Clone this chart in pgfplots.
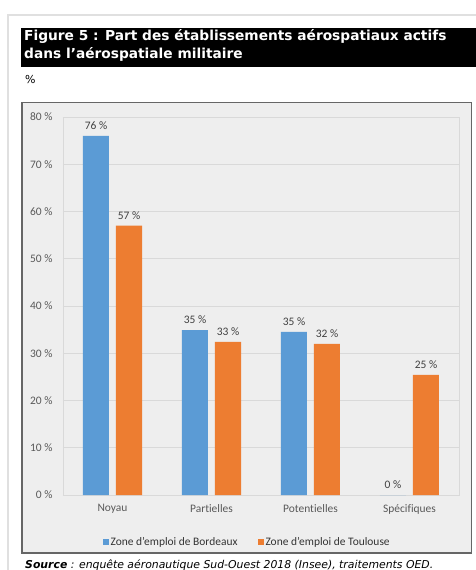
\documentclass[border=0pt]{standalone}
\usepackage{fontspec}
\setmainfont{Carlito}[Ligatures=CommonOff]
\newfontfamily\verdana{DejaVu Sans}
\usepackage{pgfplots}
\usepackage{pgfplotstable}
\pgfplotsset{compat=1.18}

\definecolor{bleu}{HTML}{5B9BD5}
\definecolor{orng}{HTML}{ED7D31}
\definecolor{fond}{HTML}{EEEEEE}
\definecolor{grille}{HTML}{D9D9D9}
\definecolor{texte}{HTML}{595959}

% x = position de la catégorie, y = valeur, lab = étiquette affichée
\pgfplotstableread{
x y lab
0 76.0 76
1 34.9 35
2 34.5 35
3 0.0 0
}\bordeaux
\pgfplotstableread{
x y lab
0 57.0 57
1 32.4 33
2 32.0 32
3 25.4 25
}\toulouse

\begin{document}
\begin{tikzpicture}
\path[use as bounding box] (0,0) rectangle (476bp,-570bp);
\fill[white] (0,0) rectangle (476bp,-570bp);
\draw[line width=2bp, black!12] (8bp,-600bp) -- (8bp,-15bp) -- (490bp,-15bp);
\fill[black] (21bp,-28bp) rectangle (476bp,-67bp);
\node[anchor=base west, inner sep=0, text=white,
  font=\verdana\bfseries\fontsize{13.8}{15}\selectfont] at (24bp,-40.5bp)
  {Figure 5 : Part des établissements aérospatiaux actifs};
\node[anchor=base west, inner sep=0, text=white,
  font=\verdana\bfseries\fontsize{13.8}{15}\selectfont] at (24bp,-58.5bp)
  {dans l’aérospatiale militaire};
\node[anchor=base west, inner sep=0, font=\verdana\fontsize{11}{12}\selectfont]
  at (25bp,-83bp) {\%};
\filldraw[fill=fond, draw=black!60, line width=1.2bp]
  (22bp,-102.5bp) rectangle (471.5bp,-553bp);

\begin{axis}[
    at={(63bp,-495bp)}, anchor=south west,
    scale only axis, width=396bp, height=378bp,
    xmin=-0.5, xmax=3.5, ymin=0, ymax=80,
    ybar=7bp, bar width=26bp,
    axis line style={grille},
    axis background/.style={fill=fond},
    major tick length=0pt,
    ymajorgrids, grid style={grille, line width=0.8bp},
    ytick={0,10,...,80},
    yticklabels={0 \%,10 \%,20 \%,30 \%,40 \%,50 \%,60 \%,70 \%,80 \%},
    xtick={0,1,2,3},
    xticklabels={Noyau,Partielles,Potentielles,Spécifiques},
    tick label style={font=\fontsize{11.5}{13}\selectfont, text=texte},
    yticklabel style={xshift=-7bp},
    xticklabel style={yshift=-6bp},
    nodes near coords={\pgfplotspointmeta~\%},
    point meta=explicit symbolic,
    every node near coord/.append style={font=\fontsize{11.5}{13}\selectfont,
      text=black!75, yshift=3bp},
    legend style={at={(0.465,-0.1)}, anchor=north, draw=none, fill=none,
      legend columns=2, font=\fontsize{11.5}{13}\selectfont, text=black!80,
      /tikz/every even column/.append style={column sep=18bp}},
    legend image code/.code={\fill[#1] (0bp,-3bp) rectangle (6bp,3bp);},
  ]
\addplot[fill=bleu, draw=none] table[x=x, y=y, meta=lab] {\bordeaux};
\addplot[fill=orng, draw=none] table[x=x, y=y, meta=lab] {\toulouse};
\legend{Zone d'emploi de Bordeaux, Zone d'emploi de Toulouse}
\end{axis}

\node[anchor=base west, inner sep=0, font=\verdana\fontsize{10.9}{12}\selectfont\itshape]
  at (25bp,-568bp) {\textbf{Source} : enquête aéronautique Sud-Ouest 2018 (Insee), traitements OED.};
\end{tikzpicture}
\end{document}
